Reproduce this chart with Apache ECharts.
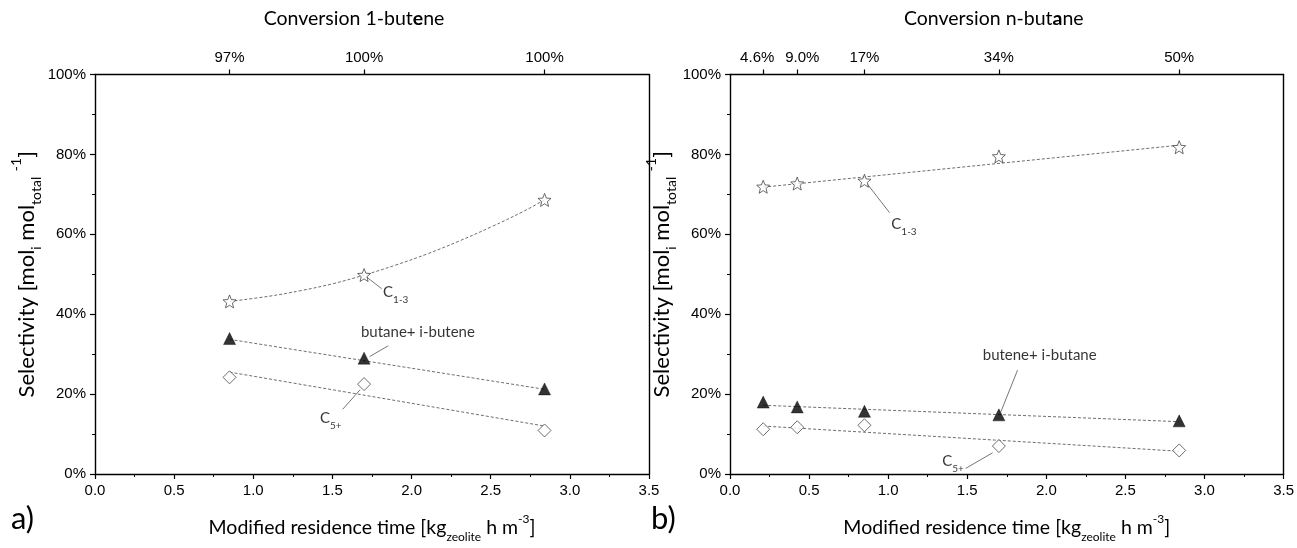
<!DOCTYPE html>
<html>
<head>
<meta charset="utf-8">
<script src="https://cdn.jsdelivr.net/npm/echarts@6/dist/echarts.min.js"></script>
<style>
html,body{margin:0;padding:0;background:#fff;}
#chart{width:1297px;height:548px;}
</style>
</head>
<body>
<div id="chart"></div>
<script>
// ---------- DATA ----------
// Panel a) 1-butene
const xA = [0.85, 1.70, 2.84];
const aC13 = [43.2, 49.8, 68.6];
const aButIB = [33.9, 29.0, 21.3];
const aC5 = [24.2, 22.5, 10.9];
const aTopTickX = [0.85, 1.70, 2.84];
const aTopTickLabels = ['97%', '100%', '100%'];
// trend lines
const aC13FitX = [0.85, 1.1, 1.3, 1.5, 1.7, 1.9, 2.1, 2.3, 2.5, 2.7, 2.84];
const aC13FitY = [43.2, 44.5, 45.9, 47.6, 49.8, 52.3, 55.1, 58.3, 61.8, 65.6, 68.6];
const aLinFitX = [0.85, 2.84];
const aButIBFitY = [33.7, 21.2];
const aC5FitY = [25.5, 12.0];

// Panel b) n-butane
const xB = [0.21, 0.425, 0.85, 1.70, 2.84];
const bC13 = [71.9, 72.7, 73.4, 79.5, 81.8];
const bButIB = [18.0, 16.8, 15.7, 14.8, 13.3];
const bC5 = [11.2, 11.7, 12.2, 7.0, 5.9];
const bTopTickX = [0.21, 0.425, 0.85, 1.70, 2.84];
const bTopTickLabels = ['4.6%', '9.0%', '17%', '34%', '50%'];
const bLinFitX = [0.21, 2.84];
const bC13FitY = [71.8, 82.3];
const bButIBFitY = [17.2, 13.1];
const bC5FitY = [12.0, 5.7];

// annotations (data coordinates)
const annA = [
  {text: 'C{s|1-3}', at: [1.90, 45.4], line: [[1.716, 49.3], [1.811, 46.4]]},
  {text: 'butane+ i-butene', at: [2.04, 35.6], line: [[1.853, 32.1], [1.735, 29.4]]},
  {text: 'C{s|5+}', at: [1.49, 14.0], line: [[1.565, 16.2], [1.675, 21.1]]}
];
const annB = [
  {text: 'C{s|1-3}', at: [1.10, 62.6], line: [[0.87, 72.5], [1.009, 65.4]]},
  {text: 'butene+ i-butane', at: [1.958, 29.7], line: [[1.818, 26.0], [1.713, 15.6]]},
  {text: 'C{s|5+}', at: [1.41, 3.2], line: [[1.49, 1.4], [1.66, 5.3]]}
];

// ---------- STYLE ----------
const TICKFONT = 'Liberation Sans';
const TITLEFONT = 'Lato';
const STAR = 'path://M50 0 L62.9 32.3 L97.55 34.55 L70.9 56.8 L79.39 90.45 L50 72 L20.61 90.45 L29.1 56.8 L2.45 34.55 L37.1 32.3 Z';

function richFor(size) {
  const sub = Math.round(size * 0.62);
  return {
    s: {fontSize: sub, fontFamily: TITLEFONT, color: '#000', verticalAlign: 'bottom', lineHeight: sub, padding: [0, 0, -Math.round(size * 0.28), 0]},
    p: {fontSize: sub, fontFamily: TITLEFONT, color: '#000', verticalAlign: 'top', lineHeight: sub, padding: [-Math.round(size * 0.28), 0, 0, 0]},
    b: {fontSize: size, fontFamily: TITLEFONT, color: '#000', fontWeight: 'bold'}
  };
}
const TITLESIZE = 19.5;
const YTITLESIZE = 22;

function zip(xs, ys) { return xs.map((x, i) => [x, ys[i]]); }

function xAxisBottom(g) {
  return {
    gridIndex: g, type: 'value', position: 'bottom', min: 0, max: 3.5, interval: 0.5,
    axisLine: {show: true, onZero: false, lineStyle: {color: '#000', width: 1.4}},
    axisTick: {show: true, inside: false, length: 5, lineStyle: {color: '#000', width: 1.2}},
    minorTick: {show: true, splitNumber: 2, length: 3, lineStyle: {color: '#000', width: 1}},
    splitLine: {show: false},
    axisLabel: {color: '#000', fontFamily: TICKFONT, fontSize: 15, margin: 9,
      formatter: v => v.toFixed(1)},
    name: 'Modified residence time [kg{s|zeolite} h m{p|-3}]',
    nameLocation: 'middle', nameGap: 44,
    nameTextStyle: {fontFamily: TITLEFONT, fontSize: TITLESIZE, color: '#000', rich: richFor(TITLESIZE)}
  };
}
const tickRich = {
  c: {fontFamily: TICKFONT, fontSize: 15, color: '#000'},
  l: {fontFamily: TICKFONT, fontSize: 15, color: '#000', padding: [0, 12, 0, 0]},
  r: {fontFamily: TICKFONT, fontSize: 15, color: '#000', padding: [0, 0, 0, 10]}
};
function xAxisTop(g, ticks, labels, title, shift, nudge) {
  return {
    gridIndex: g, type: 'value', position: 'top', min: 0, max: 3.5,
    axisLine: {show: true, onZero: false, lineStyle: {color: '#000', width: 1.4}},
    axisTick: {show: true, inside: false, length: 5, customValues: ticks, lineStyle: {color: '#000', width: 1.2}},
    minorTick: {show: false},
    splitLine: {show: false},
    axisLabel: {color: '#000', fontFamily: TICKFONT, fontSize: 15, margin: 9, customValues: ticks, rich: tickRich,
      formatter: v => {
        const i = ticks.findIndex(t => Math.abs(t - v) < 1e-6);
        if (i < 0) return '';
        const k = nudge ? nudge[i] : 'c';
        return '{' + k + '|' + labels[i] + '}';
      }},
    name: title, nameLocation: 'middle', nameGap: 46,
    nameTextStyle: {fontFamily: TITLEFONT, fontSize: TITLESIZE, color: '#000', rich: richFor(TITLESIZE), padding: [0, shift, 0, 0]}
  };
}
function yAxisLeft(g) {
  return {
    gridIndex: g, type: 'value', position: 'left', min: 0, max: 100, interval: 20,
    axisLine: {show: true, onZero: false, lineStyle: {color: '#000', width: 1.4}},
    axisTick: {show: true, inside: false, length: 5, lineStyle: {color: '#000', width: 1.2}},
    minorTick: {show: true, splitNumber: 2, length: 3, lineStyle: {color: '#000', width: 1}},
    splitLine: {show: false},
    axisLabel: {color: '#000', fontFamily: TICKFONT, fontSize: 15, margin: 9, formatter: v => v + '%'},
    name: 'Selectivity [mol{s|i} mol{s|total} {p|-1}]',
    nameLocation: 'middle', nameGap: 52, nameRotate: 90,
    nameTextStyle: {fontFamily: TITLEFONT, fontSize: YTITLESIZE, color: '#000', rich: richFor(YTITLESIZE)}
  };
}
function yAxisRight(g) {
  return {
    gridIndex: g, type: 'value', position: 'right', min: 0, max: 100,
    axisLine: {show: true, onZero: false, lineStyle: {color: '#000', width: 1.4}},
    axisTick: {show: false}, axisLabel: {show: false}, splitLine: {show: false}
  };
}

const fitStyle = {color: '#6e6e6e', width: 1, type: [3, 2]};
function fit(g, xs, ys, smooth) {
  return {type: 'line', xAxisIndex: g * 2, yAxisIndex: g * 2, data: zip(xs, ys),
    symbol: 'none', smooth: smooth ? 0.4 : false, lineStyle: fitStyle, silent: true, z: 1};
}
function pts(g, xs, ys, kind) {
  let s = {type: 'scatter', xAxisIndex: g * 2, yAxisIndex: g * 2, data: zip(xs, ys), z: 5, silent: true};
  if (kind === 'star') {
    s.symbol = STAR; s.symbolSize = 13;
    s.itemStyle = {color: '#fff', borderColor: '#333', borderWidth: 0.9};
  } else if (kind === 'tri') {
    s.symbol = 'triangle'; s.symbolSize = 12;
    s.itemStyle = {color: '#000', borderColor: '#000', borderWidth: 0.5};
  } else {
    s.symbol = 'diamond'; s.symbolSize = 13;
    s.itemStyle = {color: '#fff', borderColor: '#333', borderWidth: 0.9};
  }
  return s;
}
function annots(g, list) {
  const out = [];
  list.forEach(a => {
    out.push({type: 'line', xAxisIndex: g * 2, yAxisIndex: g * 2, data: a.line, symbol: 'none',
      lineStyle: {color: '#666', width: 0.9, type: 'solid'}, silent: true, z: 3});
  });
  out.push({type: 'scatter', xAxisIndex: g * 2, yAxisIndex: g * 2, symbolSize: 1, silent: true, z: 6,
    itemStyle: {color: 'rgba(0,0,0,0)'},
    data: list.map(a => ({value: a.at, name: a.text})),
    label: {show: true, position: 'inside', formatter: p => p.name, color: '#000',
      fontFamily: TITLEFONT, fontSize: 15, rich: {
        s: {fontSize: 10, fontFamily: TITLEFONT, color: '#000', verticalAlign: 'bottom', lineHeight: 10, padding: [0, 0, -5, 0]}
      }}
  });
  return out;
}

const chart = echarts.init(document.getElementById('chart'), null, {renderer: 'canvas'});
chart.setOption({
  animation: false,
  backgroundColor: '#fff',
  grid: [
    {left: 95, right: 648, top: 74.5, bottom: 65},
    {left: 730, right: 12, top: 74.5, bottom: 65}
  ],
  xAxis: [
    xAxisBottom(0), xAxisTop(0, aTopTickX, aTopTickLabels, 'Conversion 1-but{b|e}ne', 36, null),
    xAxisBottom(1), xAxisTop(1, bTopTickX, bTopTickLabels, 'Conversion n-but{b|a}ne', 26, ['l', 'r', 'c', 'c', 'c'])
  ],
  yAxis: [yAxisLeft(0), yAxisRight(0), yAxisLeft(1), yAxisRight(1)],
  graphic: [
    {type: 'text', left: 11, top: 503, style: {text: 'a)', font: '31px Lato', fill: '#000'}},
    {type: 'text', left: 651, top: 503, style: {text: 'b)', font: '31px Lato', fill: '#000'}}
  ],
  series: [
    fit(0, aC13FitX, aC13FitY, true),
    fit(0, aLinFitX, aButIBFitY, false),
    fit(0, aLinFitX, aC5FitY, false),
    pts(0, xA, aC13, 'star'),
    pts(0, xA, aButIB, 'tri'),
    pts(0, xA, aC5, 'dia'),
    ...annots(0, annA),
    fit(1, bLinFitX, bC13FitY, false),
    fit(1, bLinFitX, bButIBFitY, false),
    fit(1, bLinFitX, bC5FitY, false),
    pts(1, xB, bC13, 'star'),
    pts(1, xB, bButIB, 'tri'),
    pts(1, xB, bC5, 'dia'),
    ...annots(1, annB)
  ]
});
</script>
</body>
</html>
